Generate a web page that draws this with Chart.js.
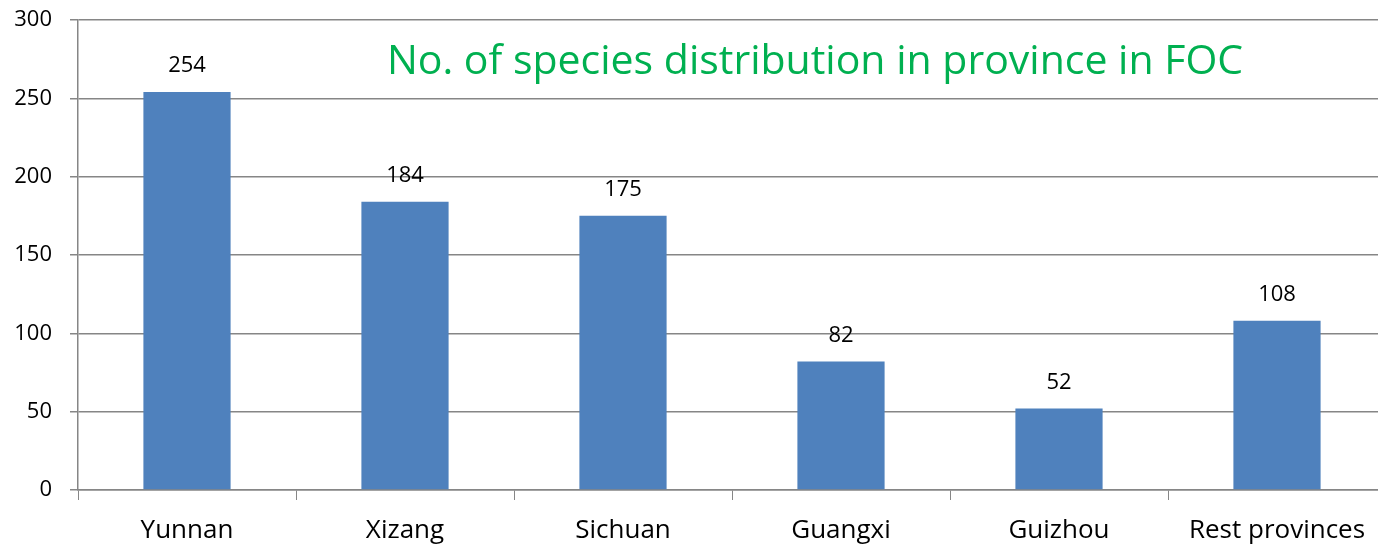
<!DOCTYPE html>
<html>
<head>
<meta charset="utf-8">
<script src="https://cdn.jsdelivr.net/npm/chart.js@4/dist/chart.umd.min.js"></script>
<style>
  html, body { margin: 0; padding: 0; background: #fff; overflow: hidden; }
  #wrap { width: 1390px; height: 546px; }
</style>
</head>
<body>
<div id="wrap"><canvas id="chart"></canvas></div>
<script>
const categories = ['Yunnan', 'Xizang', 'Sichuan', 'Guangxi', 'Guizhou', 'Rest provinces'];
const speciesCounts = [254, 184, 175, 82, 52, 108];
const yTicks = [0, 50, 100, 150, 200, 250, 300];
const titleText = 'No. of species distribution in province in FOC';

const FONT = "'Open Sans', 'Noto Sans', sans-serif";
const GRID = '#868686';

// value labels above each bar
const valueLabels = {
    id: 'valueLabels',
    afterDatasetsDraw(chart) {
        const ctx = chart.ctx;
        const meta = chart.getDatasetMeta(0);
        ctx.save();
        ctx.font = '22px ' + FONT;
        ctx.fillStyle = '#000';
        ctx.textAlign = 'center';
        ctx.textBaseline = 'middle';
        meta.data.forEach((bar, i) => {
            ctx.fillText(String(speciesCounts[i]), bar.x, bar.y - 26);
        });
        ctx.restore();
    }
};

// title drawn inside the plot area
const innerTitle = {
    id: 'innerTitle',
    afterDraw(chart) {
        const ctx = chart.ctx;
        const area = chart.chartArea;
        ctx.save();
        ctx.font = '41px ' + FONT;
        ctx.fillStyle = '#00b050';
        ctx.textAlign = 'center';
        ctx.textBaseline = 'middle';
        ctx.fillText(titleText, area.left + 737, area.top + 42);
        ctx.restore();
    }
};

new Chart(document.getElementById('chart'), {
    type: 'bar',
    data: {
        labels: categories,
        datasets: [{
            data: speciesCounts,
            backgroundColor: '#4f81bd',
            borderWidth: 0,
            categoryPercentage: 0.4,
            barPercentage: 1
        }]
    },
    options: {
        responsive: true,
        maintainAspectRatio: false,
        animation: false,
        layout: { padding: { top: 20, right: 4, left: 0, bottom: 0 } },
        plugins: {
            legend: { display: false },
            tooltip: { enabled: false }
        },
        scales: {
            x: {
                grid: {
                    offset: true,
                    drawOnChartArea: false,
                    color: GRID,
                    tickLength: 10
                },
                border: { color: GRID, width: 1.5 },
                ticks: {
                    color: '#000',
                    font: { family: FONT, size: 26 },
                    padding: 15,
                    maxRotation: 0,
                    autoSkip: false
                },
                afterFit(scale) {
                    scale.height = 56;
                    scale.paddingLeft = 0;
                    scale.paddingRight = 0;
                }
            },
            y: {
                min: 0,
                max: 300,
                afterBuildTicks(scale) {
                    scale.ticks = yTicks.map(v => ({ value: v }));
                },
                grid: {
                    color: GRID,
                    lineWidth: 1.5,
                    tickLength: 8
                },
                border: { color: GRID, width: 1.5 },
                ticks: {
                    color: '#000',
                    font: { family: FONT, size: 22 },
                    padding: 18
                },
                afterFit(scale) {
                    scale.width = 78;
                    scale.paddingTop = 0;
                    scale.paddingBottom = 0;
                }
            }
        }
    },
    plugins: [valueLabels, innerTitle]
});
</script>
</body>
</html>
